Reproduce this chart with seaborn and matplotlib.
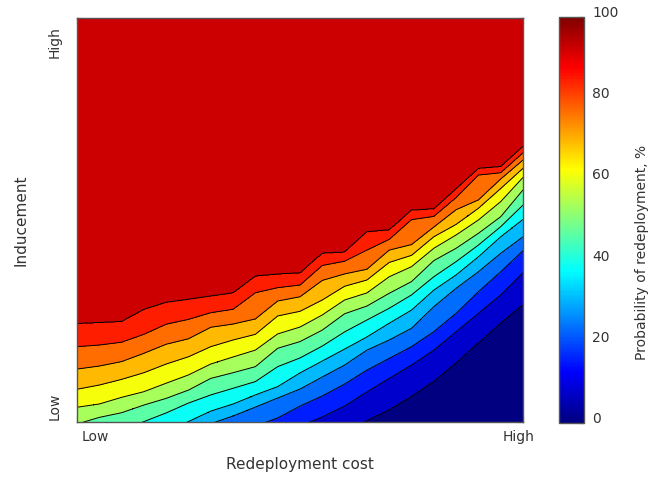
import numpy as np
import matplotlib
matplotlib.use("Agg")
import matplotlib.pyplot as plt
import seaborn as sns
from matplotlib.colors import LinearSegmentedColormap, Normalize
from matplotlib.cm import ScalarMappable
from matplotlib.ticker import FixedLocator

# ---------------- data ----------------
# grid columns along "Redeployment cost" (21 columns, 0 = Low ... 20 = High)
cost_grid = list(range(21))
# contour levels of the probability (%)
levels = [k * 100 / 13 for k in range(14)]
# height (in Inducement grid units, 0..20) of each iso-probability line at every column
c1 = [-6.5, -6.0, -5.5, -5.0, -4.5, -4.0, -3.5, -3.0, -2.5, -2.0, -1.5, -1.0, -0.5, 0.05, 0.59, 1.25, 2.00, 2.91, 3.90, 4.89, 5.79]
c2 = [-4.7, -4.25, -3.8, -3.35, -2.9, -2.45, -2.0, -1.55, -1.1, -0.65, -0.2, 0.25, 0.79, 1.49, 2.16, 2.82, 3.56, 4.47, 5.38, 6.29, 7.39]
c3 = [-3.8, -3.35, -2.9, -2.45, -2.0, -1.55, -1.1, -0.65, -0.2, 0.20, 0.79, 1.29, 1.88, 2.57, 3.15, 3.73, 4.47, 5.38, 6.45, 7.44, 8.48]
c4 = [-2.75, -2.3, -1.85, -1.4, -0.95, -0.5, -0.08, 0.30, 0.74, 1.19, 1.63, 2.23, 2.82, 3.56, 4.06, 4.64, 5.71, 6.62, 7.44, 8.35, 9.17]
c5 = [-2.25, -1.8, -1.35, -0.9, -0.45, 0.02, 0.54, 0.89, 1.34, 1.75, 2.43, 3.02, 3.61, 4.21, 4.89, 5.54, 6.53, 7.28, 8.18, 9.17, 10.03]
c6 = [-1.2, -0.8, -0.4, 0.02, 0.45, 0.94, 1.34, 1.67, 2.00, 2.74, 3.17, 3.76, 4.46, 5.05, 5.63, 6.29, 7.19, 7.94, 8.76, 9.67, 10.74]
c7 = [-0.1, 0.23, 0.46, 0.84, 1.17, 1.58, 2.16, 2.44, 2.74, 3.65, 3.98, 4.55, 5.36, 5.74, 6.37, 6.95, 7.99, 8.60, 9.34, 10.16, 11.49]
c8 = [0.73, 0.89, 1.22, 1.50, 1.92, 2.33, 2.87, 3.22, 3.56, 4.36, 4.70, 5.30, 6.04, 6.39, 7.19, 7.69, 8.60, 9.26, 10.00, 10.91, 12.11]
c9 = [1.62, 1.83, 2.11, 2.44, 2.87, 3.23, 3.73, 4.06, 4.34, 5.25, 5.48, 6.04, 6.72, 7.03, 7.90, 8.25, 9.17, 9.78, 10.58, 11.56, 12.56]
c10 = [2.62, 2.77, 2.99, 3.40, 3.85, 4.12, 4.69, 4.85, 5.10, 5.99, 6.20, 7.01, 7.33, 7.56, 8.51, 8.78, 9.65, 10.51, 10.99, 12.03, 12.97]
c11 = [3.73, 3.81, 3.95, 4.34, 4.84, 5.08, 5.41, 5.58, 6.40, 6.65, 6.78, 7.75, 7.96, 8.51, 9.04, 10.02, 10.18, 11.11, 12.23, 12.34, 13.33]
c12 = [4.89, 4.94, 4.99, 5.59, 5.94, 6.09, 6.25, 6.41, 7.24, 7.34, 7.40, 8.37, 8.43, 9.43, 9.53, 10.50, 10.57, 11.56, 12.57, 12.66, 13.66]

x_ticklabels = ["Low", "High"]
y_ticklabels = ["Low", "High"]
cbar_ticks = [0, 20, 40, 60, 80, 100]

# ---------------- build the field for contourf ----------------
lines = np.array([c1, c2, c3, c4, c5, c6, c7, c8, c9, c10, c11, c12])
inner_levels = np.array(levels[1:13])
x_fine = np.linspace(0, 20, 801)
y_fine = np.linspace(-7.0, 20.0, 1081)
# each iso-line is drawn straight between the grid columns
lines_fine = np.array([np.interp(x_fine, cost_grid, row) for row in lines])
Z = np.empty((y_fine.size, x_fine.size))
for j in range(x_fine.size):
    Z[:, j] = np.interp(y_fine, lines_fine[:, j], inner_levels, left=0.0, right=100.0)

# ---------------- style ----------------
sns.set_theme(style="white")
plt.rcParams["font.family"] = ["DejaVu Sans"]
txt = "#333333"

jet = LinearSegmentedColormap("mjet", {
    "red":   [(0, 0, 0), (0.375, 0, 0), (0.625, 1, 1), (0.875, 1, 1), (1, 0.5, 0.5)],
    "green": [(0, 0, 0), (0.125, 0, 0), (0.375, 1, 1), (0.625, 1, 1), (0.875, 0, 0), (1, 0, 0)],
    "blue":  [(0, 0.5, 0.5), (0.125, 1, 1), (0.375, 1, 1), (0.625, 0, 0), (1, 0, 0)],
}, N=256)
fill_colors = [jet(k / 13) for k in range(13)]

fig = plt.figure(figsize=(6.5, 4.79), dpi=100)
ax = fig.add_axes([77 / 650, 57 / 479, 446 / 650, 404 / 479])
cax = fig.add_axes([559 / 650, 56 / 479, 25 / 650, 406 / 479])

ax.contourf(x_fine, y_fine, Z, levels=levels, colors=fill_colors)
ax.contour(x_fine, y_fine, Z, levels=inner_levels, colors="black", linewidths=0.7)
ax.set_xlim(0, 20)
ax.set_ylim(0, 20)

# ticks: inward minor marks at every grid step, labels at the ends
ax.xaxis.set_minor_locator(FixedLocator(range(21)))
ax.yaxis.set_minor_locator(FixedLocator(range(21)))
ax.set_xticks([0.8, 19.8])
ax.set_xticklabels(x_ticklabels)
ax.set_yticks([0.8, 18.8])
ax.set_yticklabels(y_ticklabels, rotation=90, va="center")
ax.tick_params(which="major", length=0, labelsize=10, labelcolor=txt)
ax.tick_params(axis="x", which="major", pad=5.8)
ax.tick_params(axis="y", which="major", pad=11)
ax.tick_params(which="minor", direction="in", length=4, width=0.8, color="#333333",
               top=True, right=True, bottom=True, left=True)
for s in ax.spines.values():
    s.set_color("#555555")
    s.set_linewidth(1.0)

ax.set_xlabel("Redeployment cost", fontsize=11, color=txt)
ax.set_ylabel("Inducement", fontsize=11, color=txt)
ax.xaxis.set_label_coords(0.5, -0.087)
ax.yaxis.set_label_coords(-0.108, 0.5)

sm = ScalarMappable(norm=Normalize(0, 100), cmap=jet)
cb = fig.colorbar(sm, cax=cax, ticks=cbar_ticks)
cb.outline.set_edgecolor("#555555")
cb.outline.set_linewidth(1.0)
cax.tick_params(direction="in", length=4, width=0.8, color="#333333", labelsize=10,
                labelcolor=txt, pad=6)
for lab in cax.get_yticklabels():
    lab.set_verticalalignment("baseline")
cb.set_label("Probability of redeployment, %", fontsize=10, color=txt)
cax.yaxis.set_label_coords(3.05, 0.42)

fig.savefig("out.png", dpi=100)
